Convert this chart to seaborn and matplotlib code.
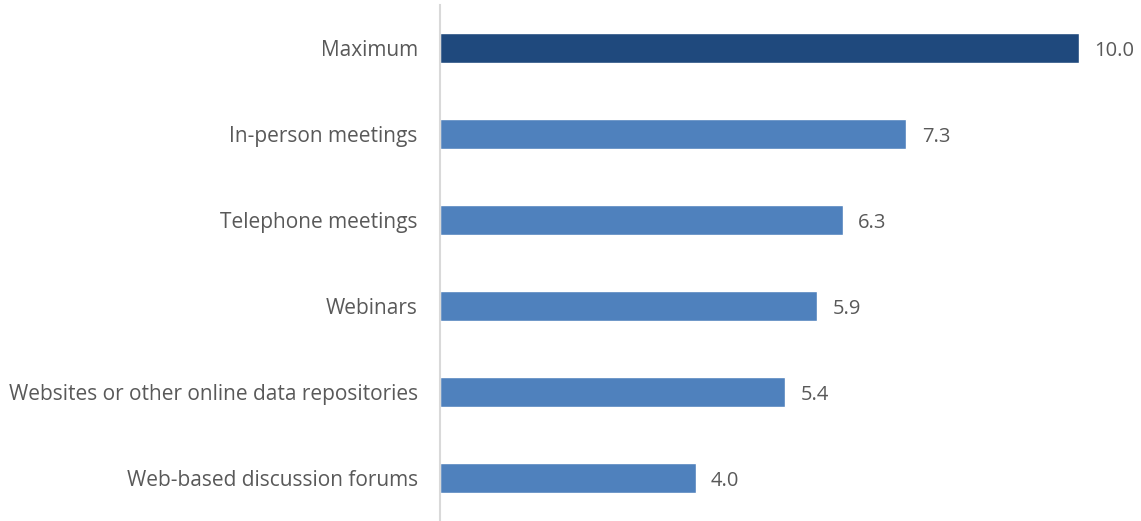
import matplotlib
matplotlib.use('Agg')
import matplotlib.pyplot as plt
import pandas as pd
import seaborn as sns

sns.set_theme(style='white')
plt.rcParams['font.family'] = ['Open Sans', 'DejaVu Sans']

CATEGORIES = ['Maximum', 'In-person meetings', 'Telephone meetings', 'Webinars',
              'Websites or other online data repositories', 'Web-based discussion forums']
SCORES = [10.0, 7.3, 6.3, 5.9, 5.4, 4.0]
BAR_COLORS = ['#1F497D', '#4F81BD', '#4F81BD', '#4F81BD', '#4F81BD', '#4F81BD']
TEXT_COLOR = '#595959'

df = pd.DataFrame({'category': CATEGORIES, 'score': SCORES})

fig = plt.figure(figsize=(11.41, 5.21), dpi=100)
ax = fig.add_axes([440 / 1141, 0.0, (1079 - 440) / 1141, 516 / 521])

sns.barplot(data=df, x='score', y='category', hue='category', palette=BAR_COLORS,
            orient='h', width=0.36, legend=False, ax=ax, saturation=1)

for bar, val in zip(ax.patches, SCORES):
    ax.text(bar.get_width() + 0.24, bar.get_y() + bar.get_height() / 2,
            f'{val:.1f}', va='center_baseline', ha='left', fontsize=14.5,
            color=TEXT_COLOR, clip_on=False)

ax.set_xlim(0, 10)
ax.set_xticks([])
ax.set_xlabel('')
ax.set_ylabel('')
ax.tick_params(axis='y', length=0, pad=16, labelsize=15, labelcolor=TEXT_COLOR)
for side in ['top', 'right', 'bottom']:
    ax.spines[side].set_visible(False)
ax.spines['left'].set_color('#D9D9D9')
ax.spines['left'].set_linewidth(1.5)

fig.savefig('out.png', dpi=100)
